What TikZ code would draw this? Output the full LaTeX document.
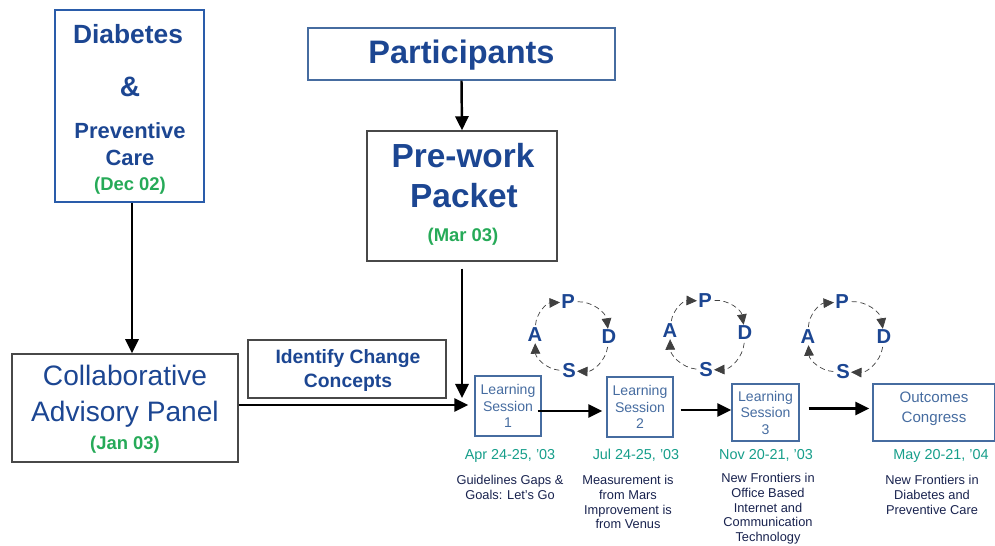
\documentclass[tikz,border=0pt]{standalone}
\usepackage{fontspec}
\setmainfont{Liberation Sans}
\usetikzlibrary{arrows.meta}
\definecolor{navy}{RGB}{28,70,146}
\definecolor{leaf}{RGB}{38,170,88}
\definecolor{teal}{RGB}{22,158,138}
\definecolor{steel}{RGB}{70,108,160}
\definecolor{ink}{RGB}{24,34,78}
\definecolor{frame}{RGB}{72,72,72}
\definecolor{rim}{RGB}{42,92,170}
\tikzset{
  graybox/.style={draw=frame, line width=0.8pt, inner sep=0pt},
  bluebox/.style={draw=rim, line width=1.5pt, inner sep=0pt},
  lsbox/.style={draw=steel, line width=0.8pt, inner sep=0pt, text=steel, align=center,
    font=\fontsize{8}{9.4}\selectfont},
  title/.style={text=navy, anchor=base, inner sep=0pt},
  when/.style={text=leaf, anchor=base, inner sep=0pt, font=\bfseries\fontsize{10.5}{12}\selectfont},
  date/.style={text=teal, anchor=base, inner sep=0pt, font=\fontsize{8.2}{10}\selectfont},
  topic/.style={text=ink, anchor=north, inner sep=0pt, align=center, font=\fontsize{7.3}{8.4}\selectfont},
  arr/.style={line width=1.4pt, -{Triangle[length=8pt,width=7.5pt]}},
  cyc/.style={thin, densely dashed, draw=black!75, -{Triangle[length=6pt,width=5.5pt]}, shorten <=1pt},
  pdsa/.style={text=navy, inner sep=0.5pt, font=\bfseries\fontsize{11.5}{12}\selectfont}
}
\begin{document}
\begin{tikzpicture}[x=0.02cm,y=-0.02cm]
    \useasboundingbox (0,0) rectangle (995,546);
    \node[bluebox, minimum width=2.98cm, minimum height=3.84cm] (diab) at (129.5,106) {};
    \node[title, font=\bfseries\fontsize{15}{16}\selectfont] (diab1) at (128,44) {Diabetes};
    \node[title, font=\bfseries\fontsize{16}{16}\selectfont] (diab2) at (130,97) {\&};
    \node[title, font=\bfseries\fontsize{12.5}{14}\selectfont] (diab3) at (130,139) {Preventive};
    \node[title, font=\bfseries\fontsize{12.5}{14}\selectfont] (diab4) at (130,166) {Care};
    \node[when] (diab5) at (130,191) {(Dec 02)};
    \node[draw=steel, line width=0.8pt, minimum width=6.14cm, minimum height=1.04cm] (part) at (461.5,54) {};
    \node[title, font=\bfseries\fontsize{18.5}{20}\selectfont] (part1) at (461.5,64) {Participants};
    \node[graybox, minimum width=3.8cm, minimum height=2.6cm] (pre) at (462,196) {};
    \node[title, font=\bfseries\fontsize{19}{20}\selectfont] (pre1) at (463,168) {Pre-work};
    \node[title, font=\bfseries\fontsize{19}{20}\selectfont] (pre2) at (464,208) {Packet};
    \node[when] (pre3) at (463,242) {(Mar 03)};
    \node[graybox, minimum width=4.52cm, minimum height=2.16cm] (collab) at (125,408) {};
    \node[title, font=\fontsize{16}{17}\selectfont] (collab1) at (125,386) {Collaborative};
    \node[title, font=\fontsize{16}{17}\selectfont] (collab2) at (125,422) {Advisory Panel};
    \node[when] (collab3) at (125,450) {(Jan 03)};
    \node[graybox, minimum width=3.96cm, minimum height=1.16cm] (ident) at (347,369) {};
    \node[title, font=\bfseries\fontsize{11}{12}\selectfont] (ident1) at (348,364) {Identify Change};
    \node[title, font=\bfseries\fontsize{11}{12}\selectfont] (ident2) at (348,388) {Concepts};
    \node[lsbox, minimum width=1.32cm, minimum height=1.2cm] (ls1) at (508,406) {Learning\\Session\\1};
    \node[lsbox, minimum width=1.32cm, minimum height=1.2cm] (ls2) at (640,407) {Learning\\Session\\2};
    \node[lsbox, minimum width=1.34cm, minimum height=1.14cm] (ls3) at (765.5,412.5) {Learning\\Session\\3};
    \node[draw=steel, line width=0.8pt, minimum width=2.44cm, minimum height=1.14cm] (outc) at (934,412.5) {};
    \node[title, text=steel, font=\fontsize{8.6}{10}\selectfont] (outc1) at (934,403) {Outcomes};
    \node[title, text=steel, font=\fontsize{8.6}{10}\selectfont] (outc2) at (934,423) {Congress};
    \node[date] (d1) at (510,460) {Apr 24-25, '03};
    \node[date] (d2) at (636,460) {Jul 24-25, '03};
    \node[date] (d3) at (766,460) {Nov 20-21, '03};
    \node[date] (d4) at (941,460) {May 20-21, '04};
    \node[topic] (g1) at (510,475) {Guidelines Gaps \&\\Goals: Let's Go};
    \node[topic] (g2) at (628,475) {Measurement is\\from Mars\\Improvement is\\from Venus};
    \node[topic] (g3) at (768,473) {New Frontiers in\\Office Based\\Internet and\\Communication\\Technology};
    \node[topic] (g4) at (932,475) {New Frontiers in\\Diabetes and\\Preventive Care};
    \coordinate (join) at (462,398);
    \draw[arr] (diab.south -| 132,0) -- (collab.north -| 132,0);
    \draw[arr] (part.south) -- (pre.north);
    \draw[arr] ([yshift=-0.14cm]pre.south) -- (join);
    \draw[arr, shorten >=0.12cm] ([yshift=0.06cm]collab.east) -- ([yshift=0.06cm]collab.east -| ls1.west);
    \draw[arr] ([xshift=-0.08cm,yshift=-0.1cm]ls1.east) -- ([xshift=-0.08cm,yshift=-0.1cm]ls1.east -| ls2.west);
    \draw[arr, shorten <=0.14cm] ([yshift=-0.06cm]ls2.east) -- ([yshift=-0.06cm]ls2.east -| ls3.west);
    \draw[arr, shorten <=0.18cm, shorten >=0.06cm] ([yshift=0.08cm]ls3.east) -- ([yshift=0.08cm]ls3.east -| outc.west);
    \node[pdsa] (p1) at (568,302) {P};
    \node[pdsa] (d1c) at (609,337) {D};
    \node[pdsa] (s1) at (569,371) {S};
    \node[pdsa] (a1) at (535,335) {A};
    \draw[cyc] (a1) to[bend left=42] (p1);
    \draw[cyc] (p1) to[bend left=42] (d1c);
    \draw[cyc] (d1c) to[bend left=42] (s1);
    \draw[cyc] (s1) to[bend left=42] (a1);
    \node[pdsa] (p2) at (705,301) {P};
    \node[pdsa] (d2c) at (745,333) {D};
    \node[pdsa] (s2) at (706,370) {S};
    \node[pdsa] (a2) at (670,331) {A};
    \draw[cyc] (a2) to[bend left=42] (p2);
    \draw[cyc] (p2) to[bend left=42] (d2c);
    \draw[cyc] (d2c) to[bend left=42] (s2);
    \draw[cyc] (s2) to[bend left=42] (a2);
    \node[pdsa] (p3) at (842,302) {P};
    \node[pdsa] (d3c) at (884,337) {D};
    \node[pdsa] (s3) at (843,372) {S};
    \node[pdsa] (a3) at (808,337) {A};
    \draw[cyc] (a3) to[bend left=42] (p3);
    \draw[cyc] (p3) to[bend left=42] (d3c);
    \draw[cyc] (d3c) to[bend left=42] (s3);
    \draw[cyc] (s3) to[bend left=42] (a3);
\end{tikzpicture}
\end{document}
